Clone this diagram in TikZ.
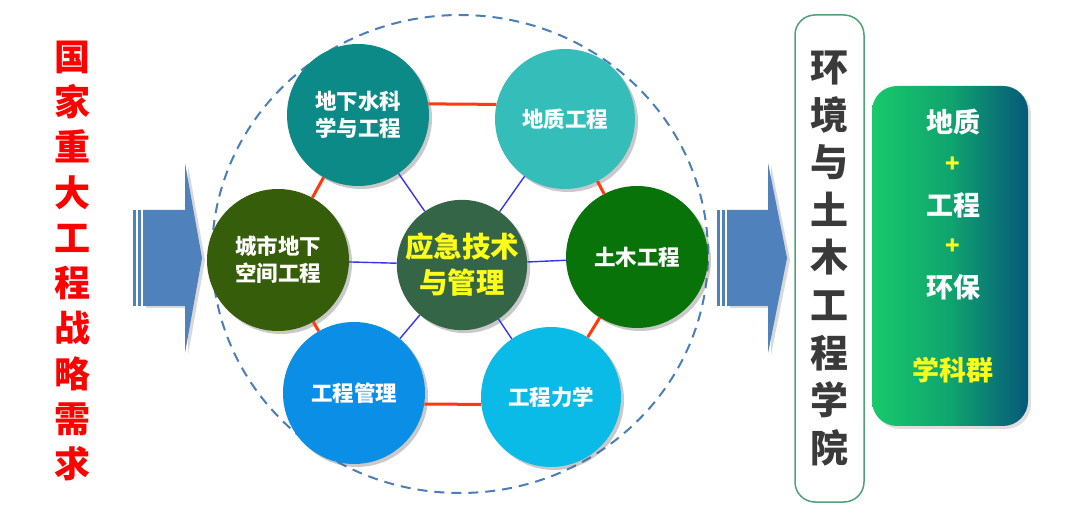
\documentclass[tikz,border=0pt]{standalone}
\usepackage{fontspec}
\newfontfamily\cjk{Noto Sans CJK SC}
\usetikzlibrary{shadows,shapes.geometric}
\definecolor{arrowblue}{HTML}{4F81BD}
\definecolor{dashblue}{HTML}{4A7EBB}
\definecolor{hexred}{HTML}{FF3A10}
\definecolor{spokeblue}{HTML}{3535F0}
\definecolor{cA}{HTML}{0B8A87}
\definecolor{cB}{HTML}{35BDBA}
\definecolor{cC}{HTML}{365E0A}
\definecolor{cD}{HTML}{346547}
\definecolor{cE}{HTML}{087308}
\definecolor{cF}{HTML}{0B8EE6}
\definecolor{cG}{HTML}{0ABBE7}
\definecolor{boxgreen}{HTML}{18C96B}
\definecolor{boxmid}{HTML}{10A46F}
\definecolor{boxblue}{HTML}{065878}
\definecolor{frame}{HTML}{4FA276}
\definecolor{darktext}{HTML}{3A3A3A}
\definecolor{yel}{HTML}{FFFF1A}
\tikzset{
  disc/.style={circle, inner sep=0pt, minimum size=#1, align=center, text=white,
    font=\cjk\bfseries\fontsize{21.5}{27}\selectfont,
    drop shadow={shadow xshift=3pt, shadow yshift=-3pt, opacity=0.35, fill=black!60}},
  hexline/.style={draw=hexred, line width=3pt},
  spoke/.style={draw=spokeblue, line width=1.4pt},
  arrowshape/.style={fill=arrowblue, drop shadow={shadow xshift=3pt, shadow yshift=-2pt, opacity=0.3}},
  boxtext/.style={text=white, font=\cjk\bfseries\fontsize{27}{30}\selectfont, inner sep=0pt},
  plus/.style={text=yel, font=\cjk\bfseries\fontsize{24}{26}\selectfont, inner sep=0pt}
}
\begin{document}
\begin{tikzpicture}[x=1pt,y=-1pt]
\useasboundingbox[fill=white] (0,0) rectangle (1080,529);

% left red vertical text
\node[text=red, font=\cjk\bfseries\fontsize{36}{45.3}\selectfont, align=center, inner sep=0pt]
  (need) at (72.5,261) {国\\家\\重\\大\\工\\程\\战\\略\\需\\求};

% left arrow
\fill[arrowblue] (133,210) rectangle (136,306);
\fill[arrowblue] (138,210) rectangle (141,306);
\path[arrowshape] (143,210) -- (185,210) -- (185,163) -- (202,258) -- (185,353) -- (185,306) -- (143,306) -- cycle;

% right arrow
\fill[arrowblue] (717,210) rectangle (720,306);
\fill[arrowblue] (722,210) rectangle (725,306);
\path[arrowshape] (727,210) -- (768,210) -- (768,163) -- (787,258) -- (768,353) -- (768,306) -- (727,306) -- cycle;

% dashed outer circle
\node[draw=dashblue, line width=2pt, dash pattern=on 10pt off 7pt, ellipse, minimum width=496pt, minimum height=478pt, inner sep=0pt] (ring) at (460,254) {};

% circles
\node[disc=142pt, fill=cA] (dx) at (358,115) {地下水科\\学与工程};
\node[disc=140pt, fill=cB] (dz) at (565,119) {地质工程};
\node[disc=142pt, fill=cC] (cs) at (278,260) {城市地下\\空间工程};
\node[disc=130pt, fill=cD, text=yel, font=\cjk\bfseries\fontsize{28.5}{36}\selectfont] (yj) at (462,265) {应急技术\\与管理};
\node[disc=142pt, fill=cE] (tm) at (637,257) {土木工程};
\node[disc=142pt, fill=cF] (gl) at (354,393) {工程管理};
\node[disc=140pt, fill=cG] (lx) at (551,397) {工程力学};

% connectors
\draw[hexline] (dx.9) -- (dz.168);
\draw[hexline] (dx) -- (cs);
\draw[hexline] (dz) -- (tm);
\draw[hexline] (cs) -- (gl);
\draw[hexline] (tm) -- (lx);
\draw[hexline] (gl.-9) -- (lx.186);
\draw[spoke] (yj) -- (dx);
\draw[spoke] (yj) -- (dz);
\draw[spoke] (yj) -- (cs);
\draw[spoke] (yj) -- (tm);
\draw[spoke] (yj) -- (gl);
\draw[spoke] (yj) -- (lx);

% college box
\node[draw=frame, line width=1.5pt, rounded corners=20pt, minimum width=69pt, minimum height=487pt, inner sep=0pt,
  text=darktext, font=\cjk\bfseries\fontsize{38}{47.6}\selectfont, align=center]
  (college) at (829.5,258.5) {环\\境\\与\\土\\木\\工\\程\\学\\院};

% discipline group box
\node[rounded corners=25pt, minimum width=156pt, minimum height=340pt, inner sep=0pt,
  left color=boxgreen, right color=boxblue, middle color=boxmid,
  drop shadow={shadow xshift=3pt, shadow yshift=-3pt, opacity=0.25}] (grp) at (950,256) {};
\node[boxtext] (t1) at (953,122) {地质};
\node[plus] (p1) at (953,165) {+};
\node[boxtext] (t2) at (953,205) {工程};
\node[plus] (p2) at (953,247) {+};
\node[boxtext] (t3) at (953,287) {环保};
\node[boxtext, text=yel] (t4) at (953,370) {学科群};
\end{tikzpicture}
\end{document}
